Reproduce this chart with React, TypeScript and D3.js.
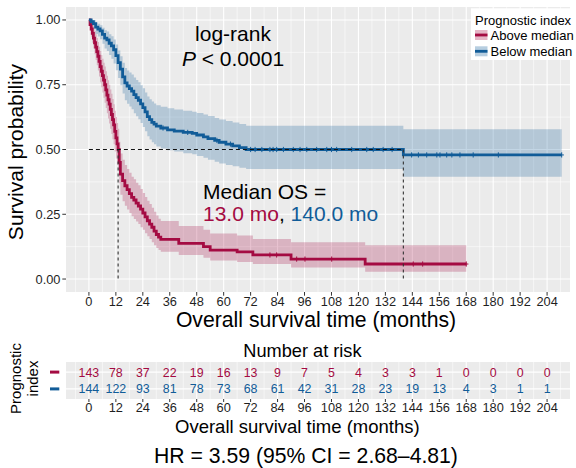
import React from 'react';
import * as d3 from 'd3';

// ---------- data ----------
const xTicks = [0, 12, 24, 36, 48, 60, 72, 84, 96, 108, 120, 132, 144, 156, 168, 180, 192, 204];
const xMinor = [-6, 6, 18, 30, 42, 54, 66, 78, 90, 102, 114, 126, 138, 150, 162, 174, 186, 198, 210];
const yTicks = [0, 0.25, 0.5, 0.75, 1];
const yTickLabels = ['0.00', '0.25', '0.50', '0.75', '1.00'];
const yMinor = [0.125, 0.375, 0.625, 0.875];

const groupNames = ['Above median', 'Below median'];

const aboveTimes = [0, 0.5, 1, 1.5, 2, 2.5, 3, 3.5, 4, 4.5, 5, 5.5, 6, 6.5, 7, 7.5, 8, 8.5, 9, 9.5, 10, 10.5, 11, 11.5, 12, 12.5, 13, 13.5, 14, 15, 16, 17, 18, 19, 20, 21, 22, 23, 24, 25, 26, 27, 28, 29, 30, 31, 32, 40, 51, 54, 66, 73, 90, 123];
const aboveSurv = [1, 0.982, 0.965, 0.948, 0.93, 0.912, 0.895, 0.878, 0.86, 0.84, 0.82, 0.802, 0.785, 0.768, 0.75, 0.73, 0.71, 0.692, 0.675, 0.655, 0.635, 0.615, 0.595, 0.57, 0.545, 0.522, 0.5, 0.45, 0.405, 0.38, 0.36, 0.345, 0.33, 0.315, 0.305, 0.293, 0.282, 0.27, 0.255, 0.24, 0.225, 0.212, 0.2, 0.185, 0.172, 0.162, 0.153, 0.138, 0.125, 0.112, 0.105, 0.093, 0.077, 0.058];
const aboveLower = [1, 0.96, 0.935, 0.912, 0.89, 0.868, 0.845, 0.825, 0.805, 0.782, 0.76, 0.74, 0.72, 0.7, 0.68, 0.66, 0.64, 0.62, 0.6, 0.58, 0.56, 0.54, 0.52, 0.492, 0.465, 0.442, 0.42, 0.37, 0.325, 0.3, 0.283, 0.268, 0.255, 0.242, 0.232, 0.222, 0.212, 0.2, 0.19, 0.177, 0.165, 0.155, 0.142, 0.13, 0.12, 0.112, 0.105, 0.093, 0.082, 0.072, 0.066, 0.058, 0.045, 0.028];
const aboveUpper = [1, 0.998, 0.995, 0.982, 0.97, 0.957, 0.945, 0.93, 0.915, 0.897, 0.88, 0.865, 0.85, 0.835, 0.82, 0.802, 0.785, 0.767, 0.75, 0.732, 0.715, 0.695, 0.675, 0.65, 0.625, 0.602, 0.58, 0.53, 0.485, 0.46, 0.44, 0.425, 0.41, 0.395, 0.385, 0.372, 0.362, 0.348, 0.332, 0.317, 0.302, 0.29, 0.275, 0.26, 0.245, 0.233, 0.224, 0.205, 0.19, 0.176, 0.168, 0.155, 0.142, 0.13];
const aboveEnd = 168;
const aboveCensor = [80.6, 83.6, 92.5, 96.2, 108.1, 144.4, 148.6, 168];

const belowTimes = [0, 1, 2, 3, 4, 5, 6, 7, 8, 9, 10, 11, 12, 13, 14, 15, 16, 17, 18, 19, 20, 21, 22, 23, 24, 25, 26, 27, 28, 29, 30, 32, 35, 38, 42, 46, 48, 51, 53, 56, 58, 61, 64, 67, 70, 140];
const belowSurv = [1, 0.993, 0.986, 0.972, 0.965, 0.958, 0.944, 0.93, 0.923, 0.91, 0.9, 0.885, 0.862, 0.835, 0.81, 0.78, 0.757, 0.745, 0.735, 0.725, 0.712, 0.7, 0.69, 0.676, 0.662, 0.645, 0.627, 0.615, 0.605, 0.598, 0.59, 0.583, 0.576, 0.571, 0.566, 0.562, 0.556, 0.549, 0.542, 0.535, 0.528, 0.521, 0.514, 0.507, 0.5, 0.479];
const belowLower = [1, 0.98, 0.967, 0.946, 0.936, 0.926, 0.908, 0.89, 0.88, 0.865, 0.85, 0.832, 0.806, 0.776, 0.748, 0.716, 0.69, 0.677, 0.666, 0.655, 0.64, 0.628, 0.617, 0.602, 0.587, 0.57, 0.551, 0.539, 0.528, 0.52, 0.512, 0.504, 0.497, 0.492, 0.486, 0.482, 0.475, 0.468, 0.46, 0.453, 0.446, 0.44, 0.435, 0.43, 0.425, 0.395];
const belowUpper = [1, 1, 1, 0.99, 0.985, 0.98, 0.97, 0.96, 0.955, 0.945, 0.937, 0.925, 0.905, 0.882, 0.86, 0.835, 0.815, 0.805, 0.797, 0.789, 0.778, 0.768, 0.76, 0.748, 0.736, 0.72, 0.705, 0.694, 0.685, 0.678, 0.671, 0.665, 0.659, 0.654, 0.65, 0.646, 0.641, 0.635, 0.629, 0.622, 0.616, 0.61, 0.604, 0.598, 0.592, 0.578];
const belowEnd = 210.5;
const belowCensor = [33, 44, 57, 63, 72, 74, 77, 80.6, 82, 83.6, 86.6, 91, 94, 97, 101.4, 105.9, 108, 110.3, 117, 123.7, 126.6, 131, 135, 143.7, 146.7, 150.4, 154.9, 156.3, 159.3, 161.6, 165.2, 171.1, 182.3, 210.5];

const medianTimes = [13.0, 140.0];

const aboveAtRisk = [143, 78, 37, 22, 19, 16, 13, 9, 7, 5, 4, 3, 3, 1, 0, 0, 0, 0];
const belowAtRisk = [144, 122, 93, 81, 78, 73, 68, 61, 42, 31, 28, 23, 19, 13, 4, 3, 1, 1];

// ---------- style ----------
const RED = '#A40B42';
const BLUE = '#115C98';
const FONT = "'Liberation Sans', Arial, Helvetica, sans-serif";
const PANEL_BG = '#EBEBEB';
const TEXT = '#1f1f1f';

type Pt = { t: number; s: number; lo: number; hi: number };

function buildSeries(times: number[], surv: number[], lo: number[], hi: number[], end: number): Pt[] {
  const pts: Pt[] = times.map((t, i) => ({ t, s: surv[i], lo: lo[i], hi: hi[i] }));
  const last = pts[pts.length - 1];
  pts.push({ t: end, s: last.s, lo: last.lo, hi: last.hi });
  return pts;
}

export default function App() {
  const W = 576;
  const H = 468;
  const pL = 66, pR = 570, pT = 7, pB = 292;
  const x = d3.scaleLinear().domain([-10.2, 214.2]).range([pL, pR]);
  const y = d3.scaleLinear().domain([-0.05, 1.05]).range([pB, pT]);

  const tT = 362, tB = 399;
  const yr = d3.scaleLinear().domain([0.4, 2.6]).range([tT, tB]);

  const series = [
    { name: groupNames[0], color: RED, pts: buildSeries(aboveTimes, aboveSurv, aboveLower, aboveUpper, aboveEnd), times: aboveTimes, surv: aboveSurv, censor: aboveCensor },
    { name: groupNames[1], color: BLUE, pts: buildSeries(belowTimes, belowSurv, belowLower, belowUpper, belowEnd), times: belowTimes, surv: belowSurv, censor: belowCensor },
  ];

  const line = d3.line<Pt>().x(d => x(d.t)).y(d => y(d.s)).curve(d3.curveStepAfter);
  const area = d3.area<Pt>().x(d => x(d.t)).y0(d => y(d.lo)).y1(d => y(d.hi)).curve(d3.curveStepAfter);

  const survAt = (times: number[], surv: number[], t: number) => {
    const i = Math.max(0, d3.bisectRight(times, t) - 1);
    return surv[i];
  };

  return (
    <svg width={W} height={H} style={{ position: 'absolute', left: 0, top: 0, background: '#fff' }} fontFamily={FONT}>
      <rect x={0} y={0} width={W} height={H} fill="#fff" />
      {/* main panel */}
      <rect x={pL} y={pT} width={pR - pL} height={pB - pT} fill={PANEL_BG} />
      {xMinor.map(t => (
        <line key={'xm' + t} x1={x(t)} x2={x(t)} y1={pT} y2={pB} stroke="#fff" strokeWidth={0.55} />
      ))}
      {yMinor.map(v => (
        <line key={'ym' + v} x1={pL} x2={pR} y1={y(v)} y2={y(v)} stroke="#fff" strokeWidth={0.55} />
      ))}
      {xTicks.map(t => (
        <line key={'xg' + t} x1={x(t)} x2={x(t)} y1={pT} y2={pB} stroke="#fff" strokeWidth={1.1} />
      ))}
      {yTicks.map(v => (
        <line key={'yg' + v} x1={pL} x2={pR} y1={y(v)} y2={y(v)} stroke="#fff" strokeWidth={1.1} />
      ))}

      {/* bands */}
      {series.map(s => (
        <path key={'band' + s.name} d={area(s.pts) || ''} fill={s.color} fillOpacity={0.25} />
      ))}
      {/* curves */}
      {series.map(s => (
        <path key={'line' + s.name} d={line(s.pts) || ''} fill="none" stroke={s.color} strokeWidth={2.8} />
      ))}
      {/* censor marks */}
      {series.map(s =>
        s.censor.map((c, i) => {
          const cx = x(c);
          const cy = y(survAt(s.times, s.surv, c));
          return (
            <g key={s.name + 'c' + i}>
              <line x1={cx} x2={cx} y1={cy - 2.6} y2={cy + 2.6} stroke={s.color} strokeWidth={1} />
              <line x1={cx - 2.2} x2={cx + 2.2} y1={cy} y2={cy} stroke={s.color} strokeWidth={1} />
            </g>
          );
        })
      )}

      {/* median lines */}
      <line x1={x(0)} x2={x(medianTimes[1])} y1={y(0.5)} y2={y(0.5)} stroke="#111" strokeWidth={1.1} strokeDasharray="4,3" />
      {medianTimes.map(m => (
        <line key={'med' + m} x1={x(m)} x2={x(m)} y1={y(0.5)} y2={y(0)} stroke="#333" strokeWidth={1.1} strokeDasharray="3,3" />
      ))}

      {/* axes ticks */}
      {yTicks.map((v, i) => (
        <g key={'yt' + v}>
          <line x1={pL - 3.7} x2={pL} y1={y(v)} y2={y(v)} stroke="#333" strokeWidth={1} />
          <text x={pL - 5.5} y={y(v) + 4.5} textAnchor="end" fontSize={12.8} fill={TEXT}>{yTickLabels[i]}</text>
        </g>
      ))}
      {xTicks.map(t => (
        <g key={'xt' + t}>
          <line x1={x(t)} x2={x(t)} y1={pB} y2={pB + 3.7} stroke="#333" strokeWidth={1} />
          <text x={x(t)} y={306} textAnchor="middle" fontSize={12.8} fill={TEXT}>{t}</text>
        </g>
      ))}
      <text x={316} y={326.7} textAnchor="middle" fontSize={21.2} fill="#000">Overall survival time (months)</text>
      <text transform="translate(22.6,152) rotate(-90)" textAnchor="middle" fontSize={21} fill="#000">Survival probability</text>

      {/* annotations */}
      <text x={233} y={40.5} textAnchor="middle" fontSize={21} fill="#000">log-rank</text>
      <text x={233} y={65.5} textAnchor="middle" fontSize={21} fill="#000">
        <tspan fontStyle="italic">P</tspan> &lt; 0.0001
      </text>
      <text x={203} y={199} fontSize={21} fill="#000">Median OS =</text>
      <text x={203} y={221} fontSize={21} fill="#000">
        <tspan fill={RED}>{medianTimes[0].toFixed(1)} mo</tspan>
        <tspan fill="#000">, </tspan>
        <tspan fill={BLUE}>{medianTimes[1].toFixed(1)} mo</tspan>
      </text>

      {/* legend */}
      <rect x={471} y={8.3} width={110} height={51.7} fill="#fff" />
      <text x={475} y={24.5} fontSize={13} fill="#000">Prognostic index</text>
      {series.map((s, i) => {
        const ky = 30 + i * 16.3;
        return (
          <g key={'leg' + s.name}>
            <rect x={475} y={ky} width={12.5} height={10} fill={s.color} fillOpacity={0.3} />
            <line x1={475} x2={487.5} y1={ky + 5} y2={ky + 5} stroke={s.color} strokeWidth={2.8} />
            <text x={490.5} y={ky + 10} fontSize={13} fill="#000">{s.name}</text>
          </g>
        );
      })}

      {/* risk table */}
      <text x={243.3} y={357.3} fontSize={18.2} fill="#000">Number at risk</text>
      <rect x={pL} y={tT} width={pR - pL} height={tB - tT} fill={PANEL_BG} />
      {xMinor.map(t => (
        <line key={'rxm' + t} x1={x(t)} x2={x(t)} y1={tT} y2={tB} stroke="#fff" strokeWidth={0.55} />
      ))}
      {xTicks.map(t => (
        <line key={'rxg' + t} x1={x(t)} x2={x(t)} y1={tT} y2={tB} stroke="#fff" strokeWidth={1.1} />
      ))}
      {[1, 2].map(r => (
        <line key={'ryg' + r} x1={pL} x2={pR} y1={yr(r)} y2={yr(r)} stroke="#fff" strokeWidth={1.1} />
      ))}
      {[aboveAtRisk, belowAtRisk].map((arr, r) =>
        arr.map((n, i) => (
          <text key={'rk' + r + '-' + i} x={x(xTicks[i])} y={yr(r + 1) + 4.5} textAnchor="middle" fontSize={12.4} fill={r === 0 ? RED : BLUE}>{n}</text>
        ))
      )}
      {series.map((s, r) => (
        <line key={'rkey' + r} x1={50} x2={59.3} y1={yr(r + 1)} y2={yr(r + 1)} stroke={s.color} strokeWidth={3} />
      ))}
      <text transform="translate(20.6,378.5) rotate(-90)" textAnchor="middle" fontSize={15} fill="#000">Prognostic</text>
      <text transform="translate(38.2,378.5) rotate(-90)" textAnchor="middle" fontSize={15} fill="#000">index</text>
      {xTicks.map(t => (
        <g key={'rxt' + t}>
          <line x1={x(t)} x2={x(t)} y1={tB} y2={tB + 3} stroke="#333" strokeWidth={1} />
          <text x={x(t)} y={411.6} textAnchor="middle" fontSize={12.8} fill={TEXT}>{t}</text>
        </g>
      ))}
      <text x={175} y={432.7} fontSize={18.5} fill="#000">Overall survival time (months)</text>

      <text x={306} y={463.3} textAnchor="middle" fontSize={21.2} fill="#000">HR = 3.59 (95% CI = 2.68–4.81)</text>
    </svg>
  );
}
